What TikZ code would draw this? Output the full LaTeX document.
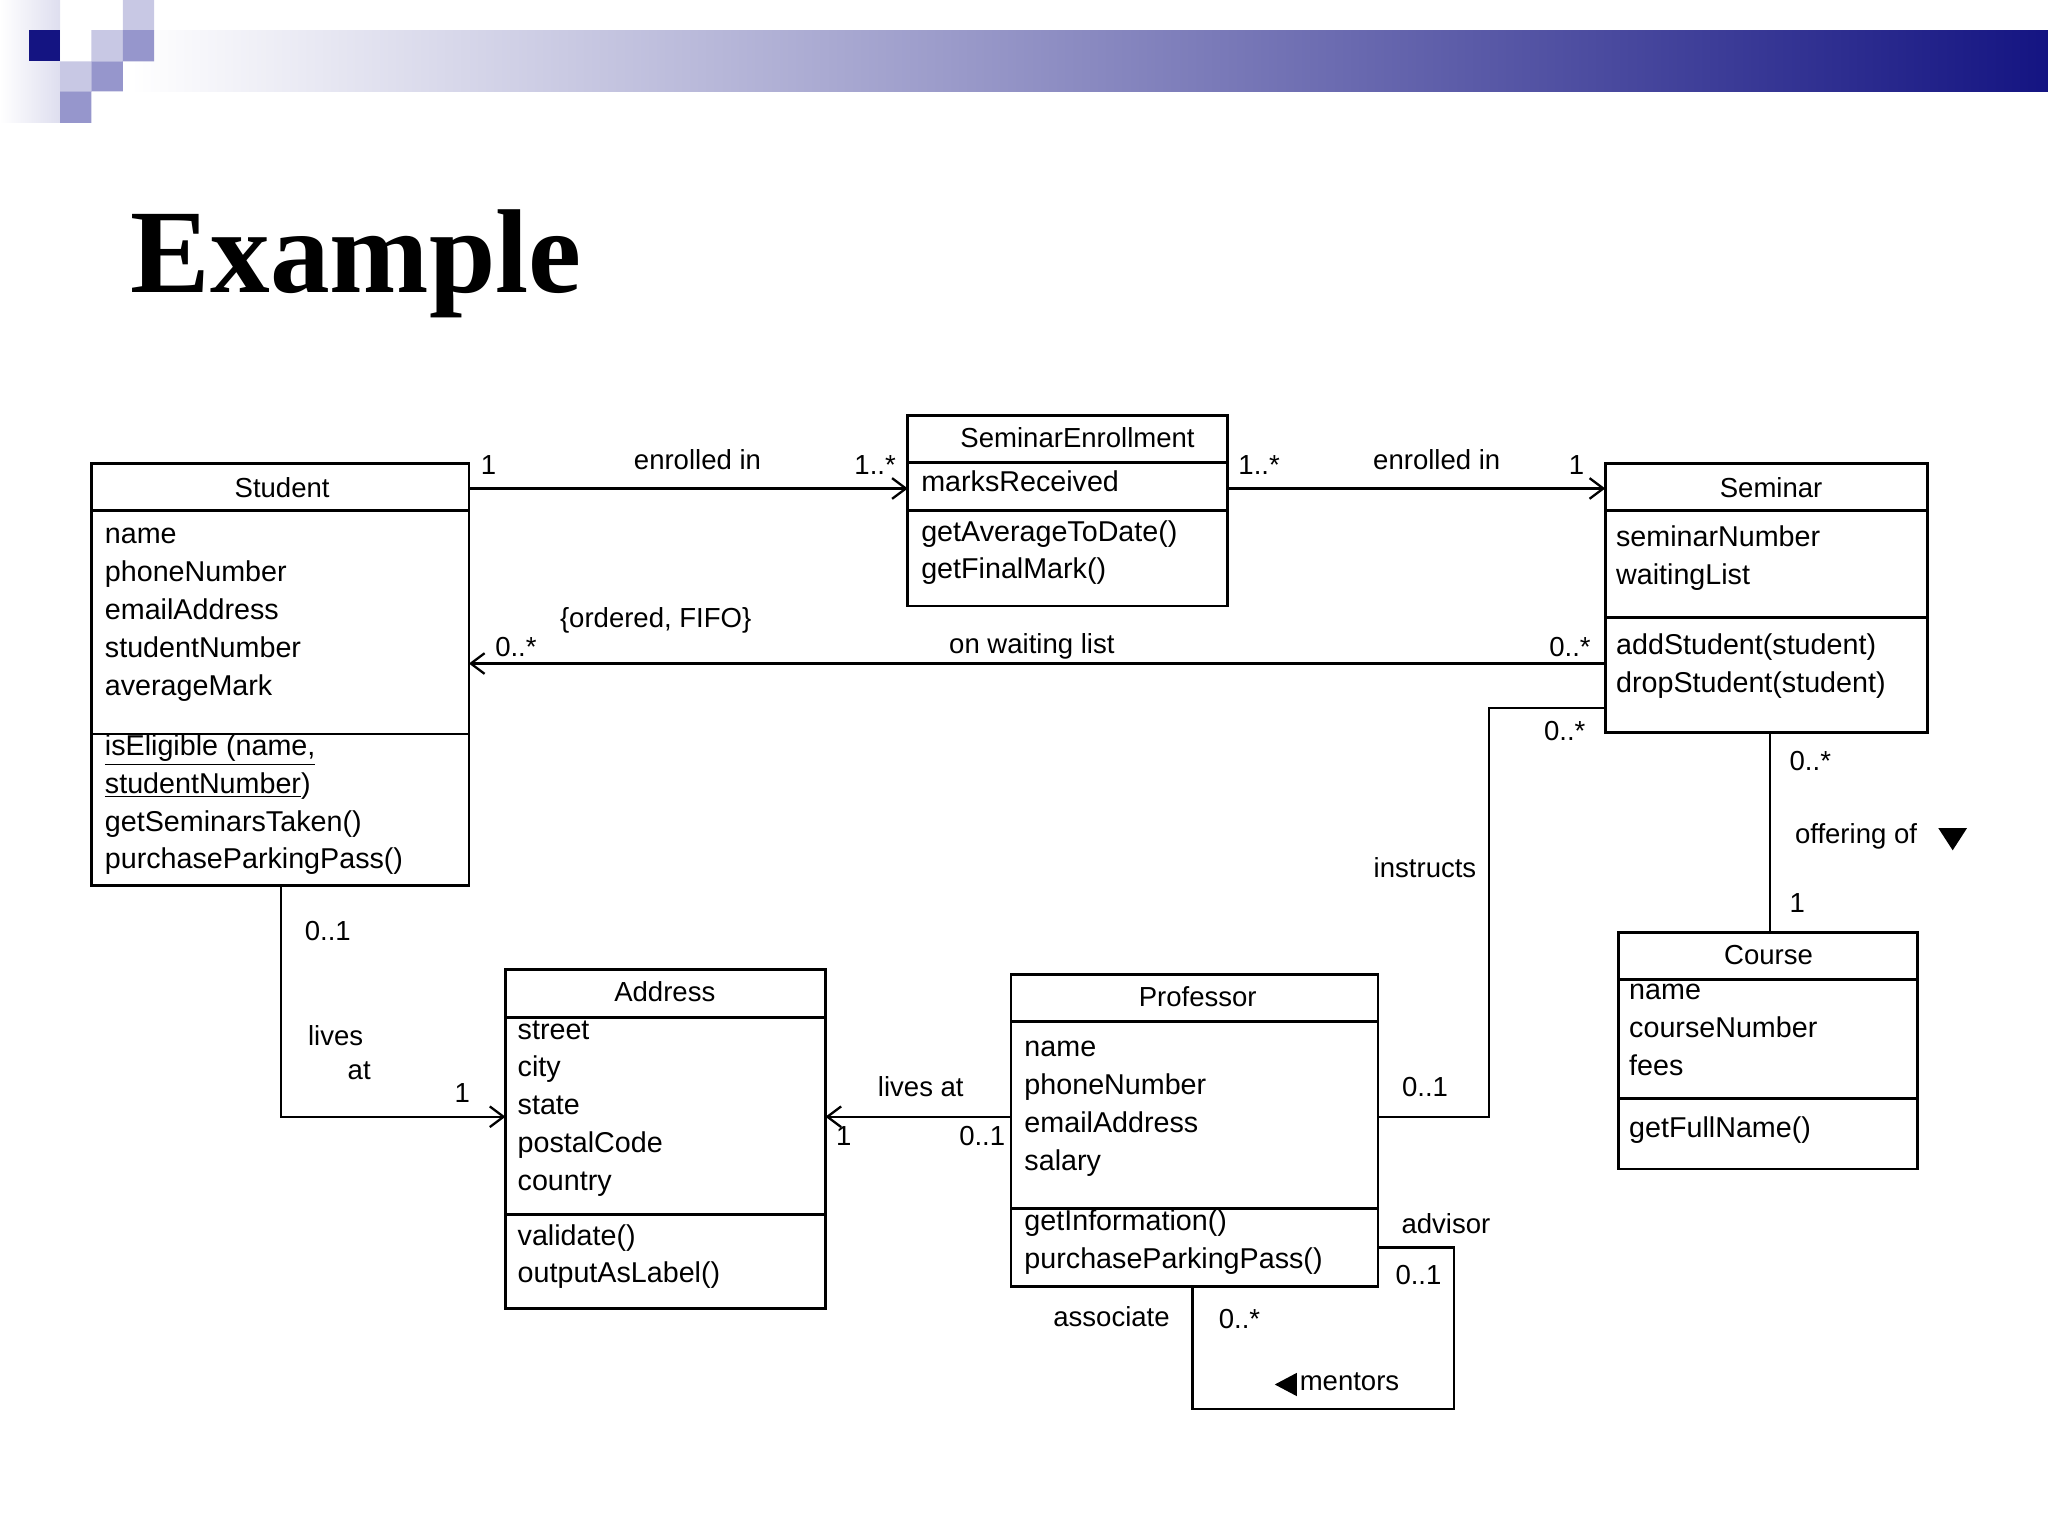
\documentclass[tikz,border=0pt]{standalone}
\usepackage{fontspec}
\setmainfont{Liberation Sans}
\newfontfamily\titlefont{Liberation Serif}
\usetikzlibrary{arrows.meta}
\definecolor{navy}{RGB}{20,20,130}
\definecolor{lav}{RGB}{200,200,228}
\definecolor{med}{RGB}{150,150,204}
\begin{document}
\begin{tikzpicture}[x=0.02cm,y=-0.02cm,
  box/.style={draw,line width=1.2pt},
  lbl/.style={font=\fontsize{12}{14}\selectfont,inner sep=1pt},
  txt/.style={font=\fontsize{12.5}{16.5}\selectfont,anchor=north west,align=left,inner sep=0pt},
  con/.style={line width=1pt},
  arr/.style={con,-{Straight Barb[length=6pt,width=9pt]}}]
\useasboundingbox (0,0) rectangle (1568,1176);
% header
\shade[left color=white,right color=navy] (100,23) rectangle (1568,70);
\shade[left color=white,right color=lav!60] (0,0) rectangle (46,94);
\fill[navy] (22,23) rectangle +(24,24);
\fill[lav] (94,0) rectangle +(24,23) (70,23) rectangle +(24,24) (46,47) rectangle +(24,23);
\fill[med] (94,23) rectangle +(24,24) (70,47) rectangle +(24,23) (46,70) rectangle +(24,24);
\node[font=\titlefont\bfseries\fontsize{52}{60}\selectfont,anchor=west] (title) at (94,202) {Example};
% Student
\draw[box] (70,355) rectangle (359,678); \draw[box] (70,391)--(359,391) (70,562)--(359,562);
\node[lbl] (stu) at (216,373) {Student};
\node[txt] (stuA) at (80,404) {name\\phoneNumber\\emailAddress\\studentNumber\\averageMark};
\node[txt] (stuO) at (80,562) {\underline{isEligible (name,}\\\underline{studentNumber})\\getSeminarsTaken()\\purchaseParkingPass()};
% SeminarEnrollment
\draw[box] (695,318) rectangle (940,464); \draw[box] (695,354)--(940,354) (695,391)--(940,391);
\node[lbl] (se) at (825,335) {SeminarEnrollment};
\node[txt] (seA) at (705,360) {marksReceived};
\node[txt] (seO) at (705,398) {getAverageToDate()\\getFinalMark()};
% Seminar
\draw[box] (1229,355) rectangle (1476,561); \draw[box] (1229,391)--(1476,391) (1229,473)--(1476,473);
\node[lbl] (sem) at (1356,373) {Seminar};
\node[txt] (semA) at (1237,402) {seminarNumber\\waitingList};
\node[txt] (semO) at (1237,485) {addStudent(student)\\dropStudent(student)};
% Course
\draw[box] (1239,714) rectangle (1468,895); \draw[box] (1239,750)--(1468,750) (1239,841)--(1468,841);
\node[lbl] (co) at (1354,731) {Course};
\node[txt] (coA) at (1247,753) {name\\courseNumber\\fees};
\node[txt] (coO) at (1247,855) {getFullName()};
% Address
\draw[box] (387,742) rectangle (632,1002); \draw[box] (387,779)--(632,779) (387,930)--(632,930);
\node[lbl] (ad) at (509,759) {Address};
\node[txt] (adA) at (396,781) {street\\city\\state\\postalCode\\country};
\node[txt] (adO) at (396,937) {validate()\\outputAsLabel()};
% Professor
\draw[box] (774,746) rectangle (1055,985); \draw[box] (774,782)--(1055,782) (774,925)--(1055,925);
\node[lbl] (pr) at (917,763) {Professor};
\node[txt] (prA) at (784,797) {name\\phoneNumber\\emailAddress\\salary};
\node[txt] (prO) at (784,926) {getInformation()\\purchaseParkingPass()};
% connectors
\coordinate (a1) at (359,374); \coordinate (a2) at (695,374);
\draw[arr] (a1)--(a2);
\node[lbl] at (374,356) {1}; \node[lbl] at (534,352) {enrolled in}; \node[lbl] at (670,356) {1..*};
\coordinate (b1) at (940,374); \coordinate (b2) at (1229,374);
\draw[arr] (b1)--(b2);
\node[lbl] at (964,356) {1..*}; \node[lbl] at (1100,352) {enrolled in}; \node[lbl] at (1207,356) {1};
\coordinate (c1) at (1229,508); \coordinate (c2) at (359,508);
\draw[arr] (c1)--(c2);
\node[lbl] at (395,495) {0..*}; \node[lbl] at (502,475) {\{ordered, FIFO\}};
\node[lbl] at (790,495) {on waiting list}; \node[lbl] at (1202,495) {0..*};
\coordinate (d1) at (1229,542); \coordinate (d2) at (1055,855);
\draw[con] (d1)-|(1140,855)--(d2);
\node[lbl] at (1198,560) {0..*}; \node[lbl] at (1091,664) {instructs}; \node[lbl] at (1091,832) {0..1};
\coordinate (e1) at (1355,561); \coordinate (e2) at (1355,714);
\draw[con] (e1)--(e2);
\node[lbl] at (1386,583) {0..*}; \node[lbl] at (1421,640) {offering of};
\fill (1484,634)--(1506,634)--(1495,651)--cycle;
\node[lbl] at (1376,691) {1};
\coordinate (f1) at (215,678); \coordinate (f2) at (387,855);
\draw[arr] (f1)|-(f2);
\node[lbl] at (251,713) {0..1}; \node[lbl] at (257,793) {lives}; \node[lbl] at (275,820) {at}; \node[lbl] at (354,837) {1};
\coordinate (g1) at (774,855); \coordinate (g2) at (632,855);
\draw[arr] (g1)--(g2);
\node[lbl] at (705,832) {lives at}; \node[lbl] at (646,870) {1}; \node[lbl] at (752,870) {0..1};
\coordinate (h1) at (1055,955); \coordinate (h2) at (913,985);
\draw[con] (h1)-|(1113,1079)-|(h2);
\node[lbl] at (1107,937) {advisor}; \node[lbl] at (1086,976) {0..1};
\node[lbl] at (851,1008) {associate}; \node[lbl] at (949,1010) {0..*};
\fill (976,1060)--(993,1051)--(993,1069)--cycle;
\node[lbl,anchor=west] at (993,1058) {mentors};
\end{tikzpicture}
\end{document}
